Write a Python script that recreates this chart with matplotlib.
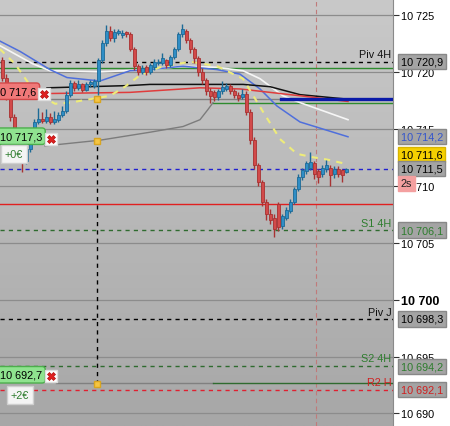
import numpy as np
import matplotlib
matplotlib.use("Agg")
import matplotlib.pyplot as plt

plt.rcParams['font.family'] = ['Liberation Sans', 'DejaVu Sans']

# candles (one per bar, oldest first)
opens = [10721.0, 10719.5, 10717.8, 10716.0, 10714.5, 10712.8, 10712.2, 10713.2, 10714.8, 10715.6,
         10715.9, 10715.7, 10716.0, 10715.6, 10715.8, 10716.2, 10716.6, 10718.0, 10719.0, 10718.6,
         10718.9, 10718.4, 10718.9, 10718.8, 10719.2, 10721.0, 10722.5, 10723.6, 10723.0, 10723.4,
         10723.2, 10723.5, 10723.3, 10722.0, 10720.5, 10720.0, 10720.4, 10720.0, 10720.4, 10720.8,
         10720.8, 10721.0, 10720.6, 10721.3, 10722.0, 10723.3, 10723.6, 10722.8, 10722.0, 10721.2,
         10720.0, 10719.3, 10718.3, 10718.2, 10717.8, 10718.3, 10718.5, 10718.8, 10718.3, 10718.0,
         10717.8, 10718.1, 10716.5, 10714.0, 10711.8, 10710.3, 10708.6, 10707.5, 10707.2, 10708.4,
         10706.5, 10707.2, 10707.8, 10708.6, 10709.7, 10710.8, 10711.3, 10711.6, 10712.0, 10711.3,
         10711.0, 10711.5, 10711.6, 10711.0, 10711.5, 10711.4, 10711.2]
closes = [10719.5, 10717.8, 10716.0, 10714.5, 10712.8, 10712.2, 10713.2, 10714.8, 10715.6, 10715.9,
          10715.7, 10716.0, 10715.6, 10715.9, 10716.2, 10716.6, 10718.0, 10719.0, 10718.6, 10718.9,
          10718.4, 10718.9, 10719.1, 10719.2, 10721.0, 10722.5, 10723.6, 10723.0, 10723.5, 10723.6,
          10723.4, 10723.3, 10722.0, 10720.5, 10720.0, 10720.3, 10720.0, 10720.6, 10720.9, 10720.9,
          10721.2, 10720.6, 10721.3, 10722.0, 10723.3, 10723.8, 10722.8, 10722.0, 10721.2, 10720.0,
          10719.3, 10718.3, 10717.9, 10717.8, 10718.3, 10718.7, 10718.8, 10718.3, 10718.0, 10717.7,
          10718.1, 10716.5, 10714.0, 10711.8, 10710.3, 10708.6, 10707.5, 10707.0, 10706.2, 10706.4,
          10707.3, 10707.9, 10708.6, 10709.7, 10710.8, 10711.4, 10712.0, 10712.1, 10711.0, 10710.8,
          10711.6, 10711.8, 10710.9, 10711.5, 10711.0, 10710.9, 10711.5]
highs = [10721.3, 10719.8, 10718.0, 10716.3, 10714.8, 10713.0, 10713.4, 10715.0, 10715.9, 10716.8,
         10716.5, 10716.7, 10716.4, 10716.6, 10716.5, 10717.0, 10718.3, 10719.3, 10719.2, 10719.3,
         10719.0, 10719.1, 10719.3, 10719.4, 10721.2, 10722.8, 10724.1, 10724.0, 10723.8, 10723.8,
         10723.7, 10723.6, 10723.5, 10722.2, 10720.7, 10720.6, 10720.6, 10720.8, 10721.1, 10721.1,
         10721.7, 10721.1, 10721.5, 10722.2, 10723.5, 10724.2, 10723.8, 10723.0, 10722.2, 10721.4,
         10720.3, 10719.5, 10718.6, 10718.4, 10718.5, 10719.2, 10719.0, 10718.9, 10718.5, 10718.2,
         10718.5, 10718.3, 10716.7, 10714.3, 10712.0, 10710.5, 10708.8, 10708.0, 10707.5, 10708.6,
         10707.5, 10708.1, 10708.8, 10709.9, 10711.0, 10711.6, 10712.2, 10713.0, 10712.2, 10711.5,
         10711.8, 10712.3, 10711.8, 10711.7, 10711.7, 10711.5, 10711.6]
lows = [10719.2, 10717.5, 10715.7, 10714.2, 10712.5, 10711.2, 10711.9, 10713.0, 10714.6, 10715.4,
        10715.5, 10715.5, 10715.4, 10715.4, 10715.6, 10716.0, 10716.4, 10717.8, 10718.3, 10718.4,
        10718.2, 10718.3, 10718.7, 10718.6, 10718.0, 10720.8, 10722.3, 10722.7, 10722.6, 10723.2,
        10723.0, 10723.1, 10721.8, 10720.2, 10719.7, 10719.8, 10719.7, 10719.8, 10720.2, 10720.6,
        10720.6, 10720.3, 10720.4, 10721.1, 10721.8, 10723.1, 10722.5, 10721.7, 10720.8, 10719.6,
        10718.9, 10718.0, 10717.3, 10717.4, 10717.5, 10718.1, 10718.3, 10718.1, 10717.7, 10717.4,
        10717.6, 10716.2, 10713.7, 10711.5, 10710.0, 10708.2, 10707.0, 10706.6, 10705.5, 10706.0,
        10706.2, 10707.0, 10707.6, 10708.4, 10709.5, 10710.5, 10711.0, 10711.4, 10710.6, 10710.2,
        10710.8, 10711.2, 10710.0, 10710.7, 10710.8, 10710.3, 10711.1]

# moving averages, read at a few bar positions
white_x = [-0.5, 7.75, 12, 24.5, 37, 45.25, 53.75, 60.25, 64.5, 70.25, 74.5, 86.5]
white_y = [10722.3, 10720.7, 10720.1, 10720.0, 10720.2, 10720.5, 10720.4, 10720.1, 10719.4, 10717.9, 10717.3, 10715.8]
blue_x = [-0.5, 4.5, 12, 16.25, 24.5, 27, 32, 37, 45.25, 53.75, 59.5, 64.5, 68.75, 74.5, 86.5]
blue_y = [10722.7, 10721.8, 10720.2, 10719.5, 10719.2, 10719.5, 10720.1, 10720.2, 10720.5, 10720.2, 10719.8,
          10718.5, 10717.0, 10715.6, 10714.3]
black_x = [11.25, 32, 37, 60.25, 67, 74.5, 86.5]
black_y = [10718.6, 10718.8, 10718.9, 10718.9, 10718.7, 10718.0, 10717.6]
red_x = [12, 32, 49.5, 59.5, 74.5, 86.5]
red_y = [10718.1, 10718.2, 10718.6, 10718.5, 10717.9, 10717.4]
yellow_x = [-0.5, 3.25, 8.25, 13.25, 17, 22, 27, 30.75, 34.5, 39.5, 47, 53.75, 60.25, 65.25, 69.5,
            73.75, 77.75, 81.25, 86.25]
yellow_y = [10722.0, 10720.7, 10718.2, 10717.2, 10717.3, 10717.6, 10717.9, 10718.7, 10719.7, 10720.4,
            10720.9, 10720.5, 10719.4, 10716.5, 10714.1, 10712.8, 10712.5, 10712.3, 10711.9]
gray_x = [10.75, 24.5, 37, 45.25, 49.5, 51.5, 52.75]
gray_y = [10713.5, 10714.0, 10714.7, 10715.2, 10715.8, 10716.7, 10717.3]

# levels
piv_4h, s1_4h, piv_j, s2_4h, r2_h = 10720.9, 10706.1, 10698.3, 10694.2, 10692.1
green_top = 10720.3
red_level = 10708.4
last_price = 10711.5
order_a, order_b, order_c = 10717.6, 10717.3, 10692.7
marker_y = [10717.6, 10713.9, 10692.6]

y_ticks = [10690, 10695, 10700, 10705, 10710, 10715, 10720, 10725]

fig = plt.figure(figsize=(4.5, 4.27), dpi=100)
fig.patch.set_facecolor('white')
ax = fig.add_axes([0, 0, 393 / 450, 1])
x0, x1 = -0.5, 97.75
y0, y1 = 10688.9, 10726.4
ax.set_xlim(x0, x1)
ax.set_ylim(y0, y1)

# background gradient
grad = np.linspace(0, 1, 256).reshape(-1, 1)
ax.imshow(grad, extent=[x0, x1, y0, y1], aspect='auto', origin='upper',
          cmap=matplotlib.colors.LinearSegmentedColormap.from_list('bg', ['#c9c9c9', '#a7a7a7']),
          zorder=0)

for t in y_ticks:
    ax.axhline(t, color='#8c8c8c', lw=0.9, zorder=1)

# vertical markers
ax.axvline(78.5, color='#c07a7a', lw=0.8, ls=(0, (4, 3)), zorder=1.5)
ax.plot([23.75, 23.75], [marker_y[2], marker_y[0]], color='black', lw=1, ls=(0, (3, 3)), zorder=2)

# horizontal levels
ax.axhline(piv_4h, color='black', lw=1, ls=(0, (3, 3)), zorder=2)
ax.axhline(green_top, color='#2e8b2e', lw=1, zorder=2)
ax.axhline(red_level, color='#e02020', lw=1, zorder=2)
ax.axhline(s1_4h, color='#2f6b2f', lw=1, ls=(0, (3, 3)), zorder=2)
ax.axhline(piv_j, color='black', lw=1, ls=(0, (3, 3)), zorder=2)
ax.axhline(s2_4h, color='#2f6b2f', lw=1, ls=(0, (3, 3)), zorder=2)
ax.axhline(r2_h, color='#e02030', lw=1, ls=(0, (3, 3)), zorder=2)
ax.axhline(last_price, color='#2020d0', lw=1, ls=(0, (3, 3)), zorder=2)

# order lines
ax.plot([11, 69.75], [order_a, order_a], color='#808080', lw=1, zorder=2)
ax.plot([69.75, x1], [order_a, order_a], color='#0a1aa8', lw=2.4, zorder=4)
ax.plot([52.75, x1], [order_b, order_b], color='#2e8b2e', lw=1, zorder=2)
ax.plot([13.5, 52.75], [order_c, order_c], color='#808080', lw=1, zorder=2)
ax.plot([52.75, x1], [order_c, order_c], color='#2f6b2f', lw=1, zorder=2)
ax.plot(gray_x, gray_y, color='#7c7c7c', lw=1, zorder=2)

# moving averages
ax.plot(white_x, white_y, color='#f6f6f6', lw=1.2, zorder=3)
ax.plot(blue_x, blue_y, color='#4f6fdc', lw=1.1, zorder=3)
ax.plot(black_x, black_y, color='#111111', lw=1.1, zorder=3)
ax.plot(red_x, red_y, color='#e03c3c', lw=1.1, zorder=3)
ax.plot(yellow_x, yellow_y, color='#eeec7a', lw=1.5, ls=(0, (3, 3)), zorder=3)

# candles
idx = np.arange(len(closes))
o = np.array(opens)
c = np.array(closes)
up = c >= o
col = np.where(up, '#2f8ec6', '#d24a4a')
edge = np.where(up, '#1d6a96', '#a83232')
ax.vlines(idx, lows, highs, colors=edge, lw=1, zorder=5)
ax.bar(idx, np.maximum(np.abs(c - o), 0.08), bottom=np.minimum(o, c), width=0.75,
       color=col, edgecolor=edge, lw=0.6, zorder=6)

# markers on the vertical line
ax.plot([23.75] * 3, marker_y, ls='none', marker='s', ms=5,
        mfc='#f5c542', mec='#d9a520', zorder=7)

# order labels on the left
lab = dict(fontsize=7.8, va='center', ha='right', zorder=8)
ax.text(8.6, 10718.3, '10 717,6', color='black', **lab,
        bbox=dict(boxstyle='round,pad=0.3', fc='#f07878', ec='#d04848'))
ax.text(10.0, 10714.35, '10 717,3', color='black', **lab,
        bbox=dict(boxstyle='round,pad=0.3', fc='#8fe38f', ec='#4cae4c'))
ax.text(5.2, 10712.8, '+0€', color='#2e7d2e', **lab,
        bbox=dict(boxstyle='square,pad=0.35', fc='#f4f4f4', ec='#cfcfcf'))
ax.text(10.0, 10693.4, '10 692,7', color='black', **lab,
        bbox=dict(boxstyle='round,pad=0.3', fc='#8fe38f', ec='#4cae4c'))
ax.text(6.8, 10691.6, '+2€', color='#2e7d2e', **lab,
        bbox=dict(boxstyle='square,pad=0.35', fc='#f4f4f4', ec='#cfcfcf'))
for xx, yy in [(10.6, 10718.1), (12.2, 10714.1), (12.2, 10693.3)]:
    ax.plot(xx, yy, marker='s', ms=8, mfc='white', mec='#dddddd', zorder=8)
    ax.plot(xx, yy, marker='X', ms=6, mfc='#e02020', mec='#b01010', mew=0.5, zorder=9)

# level names
nm = dict(fontsize=7.8, ha='right', va='center', zorder=8)
ax.text(97.3, 10721.6, 'Piv 4H', color='#111111', **nm)
ax.text(97.3, 10706.7, 'S1 4H', color='#2e7d2e', **nm)
ax.text(97.3, 10698.95, 'Piv J', color='#111111', **nm)
ax.text(97.3, 10694.9, 'S2 4H', color='#2e7d2e', **nm)
ax.text(97.3, 10692.8, 'R2 H', color='#d02020', **nm)

# right axis
ax.yaxis.tick_right()
ax.set_yticks(y_ticks)
ax.set_yticklabels([f"{v:,}".replace(',', ' ') for v in y_ticks], fontsize=7.8)
for tl in ax.get_yticklabels():
    if tl.get_text() == '10 700':
        tl.set_fontweight('bold')
        tl.set_fontsize(9)
ax.tick_params(axis='y', length=4, width=0.8, pad=2, color='#333333')
ax.set_xticks([])
for s in ['top', 'bottom', 'left']:
    ax.spines[s].set_visible(False)
ax.spines['right'].set_color('#8a8a8a')

tr = ax.get_yaxis_transform()
box = dict(fontsize=7.8, ha='left', va='center', transform=tr, clip_on=False, zorder=10)
ax.text(1.02, 10720.9, '10 720,9', color='black', **box,
        bbox=dict(boxstyle='square,pad=0.25', fc='#a4a4a4', ec='#888888'))
ax.text(1.02, 10714.3, '10 714,2', color='#3355cc', **box,
        bbox=dict(boxstyle='square,pad=0.25', fc='#a4a4a4', ec='#888888'))
ax.text(1.02, 10712.75, '10 711,6', color='black', **box,
        bbox=dict(boxstyle='square,pad=0.25', fc='#f5d000', ec='#d8b400'))
ax.text(1.02, 10711.5, '10 711,5', color='black', **box,
        bbox=dict(boxstyle='square,pad=0.25', fc='#a4a4a4', ec='#888888'))
ax.text(1.02, 10710.2, '2s', color='#222222', **box,
        bbox=dict(boxstyle='square,pad=0.25', fc='#f4a0a0', ec='#f4a0a0'))
ax.text(1.02, 10706.1, '10 706,1', color='#2e7d2e', **box,
        bbox=dict(boxstyle='square,pad=0.25', fc='#a4a4a4', ec='#888888'))
ax.text(1.02, 10698.3, '10 698,3', color='black', **box,
        bbox=dict(boxstyle='square,pad=0.25', fc='#a4a4a4', ec='#888888'))
ax.text(1.02, 10694.15, '10 694,2', color='#2e7d2e', **box,
        bbox=dict(boxstyle='square,pad=0.25', fc='#a4a4a4', ec='#888888'))
ax.text(1.02, 10692.1, '10 692,1', color='#d02020', **box,
        bbox=dict(boxstyle='square,pad=0.25', fc='#a4a4a4', ec='#888888'))

fig.savefig('out.png', dpi=100)
